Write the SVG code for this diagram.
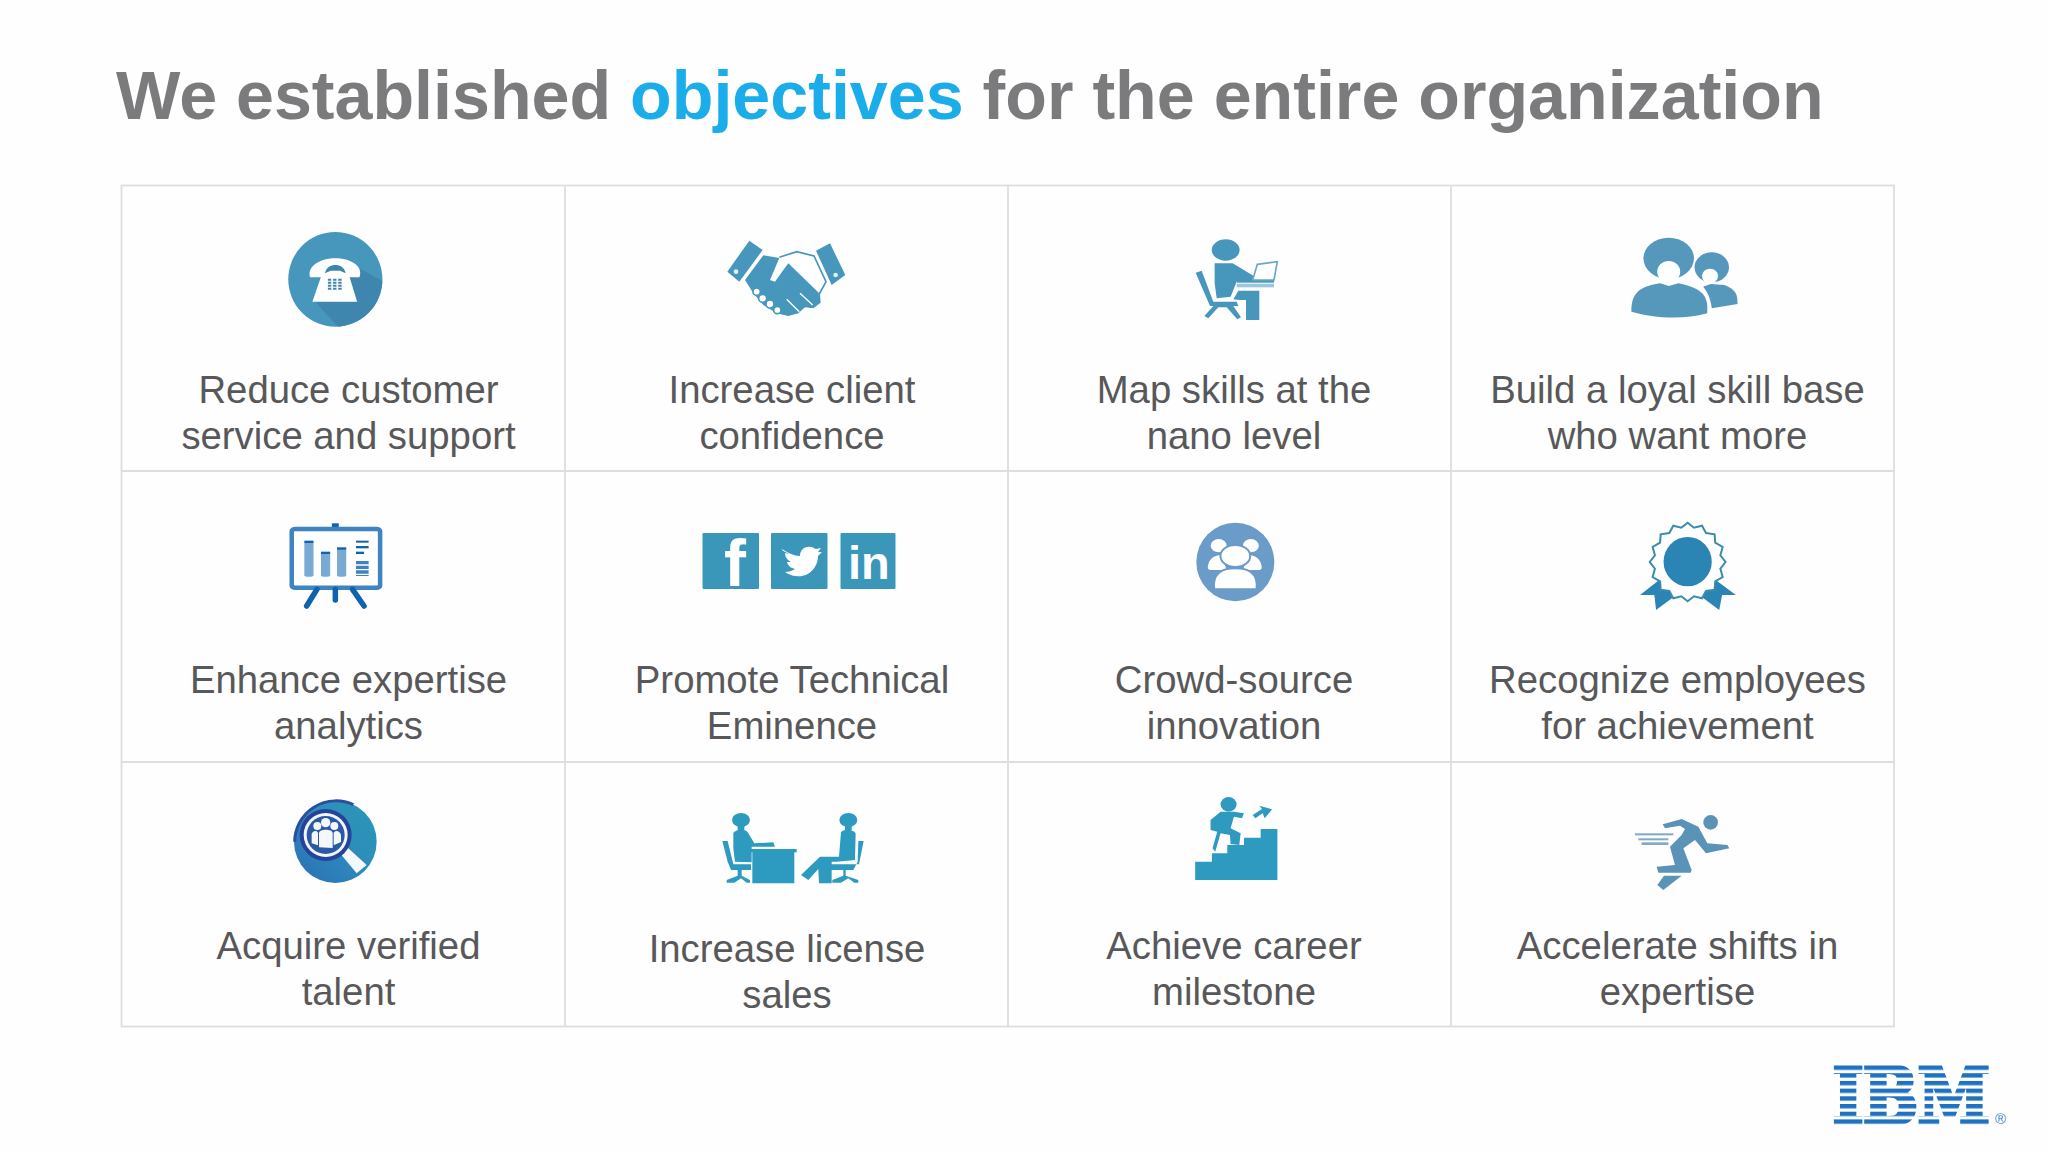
<svg xmlns="http://www.w3.org/2000/svg" width="2048" height="1152" viewBox="0 0 2048 1152">
<style>
text{font-family:"Liberation Sans",Arial,sans-serif}
.t{font-size:68.200px;font-weight:700;fill:#7b7b7d}
.l{font-size:38.300px;fill:#58585a;text-anchor:middle}
.g{stroke:#dddee2;stroke-width:1.800;fill:none}
.a{fill:#4797bd}.w{fill:#fff}
.soc{font-weight:700;fill:#fff}
</style>
<defs>
<pattern id="stripes" patternUnits="userSpaceOnUse" x="0" y="-57.500" width="10" height="7.700"><rect width="10" height="7.700" fill="#fff"/><rect width="10" height="4.400" fill="#1f72bf"/></pattern>
<clipPath id="phoneclip"><ellipse cx="410" cy="298" rx="82" ry="142"/></clipPath>
<linearGradient id="maggrad" x1="0" y1="1" x2="1" y2="0"><stop offset="0" stop-color="#2b6fb5"/><stop offset=".6" stop-color="#2d8fbb"/><stop offset="1" stop-color="#2b98b5"/></linearGradient>
</defs>
<rect width="2048" height="1152" fill="#fefefe"/>
<g id="title"><text class="t" x="116" y="119">We established <tspan fill="#1bade9">objectives</tspan> for the entire organization</text></g>
<g id="grid" class="g">
<rect x="121.500" y="185.500" width="1772.500" height="841"/>
<path d="M121.500 471H1894M121.500 762H1894M565 185.500V1026.500M1008 185.500V1026.500M1451 185.500V1026.500"/>
</g>

<g id="n1"><g transform="translate(100,180) scale(.574,.3333)">
<ellipse cx="410" cy="298" rx="82" ry="142" fill="#4797bd"/>
<path clip-path="url(#phoneclip)" d="M448 262L500 310V450H420L375 365Z" fill="#3f86ae"/>
<path class="w" d="M366 292C360 258 385 235 410 235C435 235 460 258 452 292L430 292L432 275H388L390 292ZM388 275H432L448 365H370Z"/>
<path d="M392 280C394 262 402 255 410 255C418 255 426 262 428 280L418 272H402Z" fill="#3f86ae"/>
<path d="M400 296V332M409 296V332M418 296V332" stroke="#3f86ae" stroke-width="6" stroke-dasharray="6 3" fill="none"/>
</g><text class="l" x="348.500" y="403">Reduce customer</text><text class="l" x="348.500" y="449">service and support</text></g>

<g id="n2"><g transform="translate(720,230) scale(.3333)">
<path class="a" d="M88 32L128 60L58 155L22 125Z"/><path class="a" d="M288 62L330 40L376 135L335 165Z"/>
<circle cx="48" cy="125" r="7" fill="#dff0f6"/><circle cx="347" cy="135" r="7" fill="#dff0f6"/>
<path d="M178 82L230 65L282 78L318 155L298 192" fill="#fff" stroke="#4797bd" stroke-width="5"/>
<path class="a" d="M75 150L130 76L178 84L150 150L165 155L190 120L205 100L300 192L302 218L280 235L255 232L235 250L205 258L170 250L130 225L100 190Z"/>
<g fill="#fff" stroke="#4797bd" stroke-width="5"><circle cx="110" cy="185" r="11"/><circle cx="128" cy="205" r="12"/><circle cx="150" cy="222" r="12"/><circle cx="172" cy="240" r="11"/></g>
<path d="M200 208L238 245M240 190L278 225" stroke="#fff" stroke-width="4" fill="none"/>
</g><text class="l" x="792" y="403">Increase client</text><text class="l" x="792" y="449">confidence</text></g>

<g id="n3"><g transform="translate(1180,230) scale(.3333)">
<ellipse class="a" cx="137" cy="60" rx="42" ry="32"/>
<path class="a" d="M104 100H158L225 140L218 150H172L152 200L110 205L104 160Z"/>
<path class="a" d="M47 128L65 122L100 215H170L175 228H160L183 262L172 268L140 232H115L85 265L73 258L100 228H90Z"/>
<path class="a" d="M160 208L175 182H238V270H198V210H178Z"/>
<rect x="170" y="148" width="112" height="10" fill="#4797bd"/><rect x="170" y="161" width="112" height="11" fill="#9cc7db"/>
<path d="M232 103L292 95L282 150H218Z" fill="#fff" stroke="#6aa8c4" stroke-width="5"/>
</g><text class="l" x="1234" y="403">Map skills at the</text><text class="l" x="1234" y="449">nano level</text></g>

<g id="n4"><g transform="translate(1000,180) scale(.574,.3333)" fill="#5598bb">
<ellipse cx="1240" cy="262" rx="30" ry="45"/><ellipse class="w" cx="1237" cy="288" rx="14" ry="22"/>
<path d="M1225 320L1238 312L1262 315C1285 330 1285 350 1285 372L1240 385C1238 350 1230 330 1225 320Z"/>
<ellipse cx="1165" cy="235" rx="44" ry="62"/><ellipse class="w" cx="1165" cy="275" rx="20" ry="32"/>
<path d="M1100 395C1100 345 1110 320 1150 310L1165 318L1182 310C1225 325 1235 350 1232 400C1190 420 1140 415 1100 395Z"/>
</g><text class="l" x="1677.500" y="403">Build a loyal skill base</text><text class="l" x="1677.500" y="449">who want more</text></g>

<g id="n5"><g transform="translate(100,480) scale(.574,.3333)">
<rect x="404" y="130" width="12" height="20" fill="#0f63ad"/>
<rect x="334" y="147" width="154" height="176" rx="6" fill="#fff" stroke="#3f83c0" stroke-width="4.500" vector-effect="non-scaling-stroke"/>
<path d="M378 328L360 378M410 328V360M440 328L460 378" stroke="#0f63ad" stroke-width="5.500" stroke-linecap="round" fill="none" vector-effect="non-scaling-stroke"/>
<g fill="#7aa9d4"><rect x="356" y="185" width="16" height="105" rx="4"/><rect x="385" y="218" width="16" height="72" rx="4"/><rect x="413" y="205" width="16" height="85" rx="4"/></g>
<g fill="#0f63ad"><rect x="356" y="182" width="16" height="7"/><rect x="385" y="215" width="16" height="7"/><rect x="413" y="202" width="16" height="7"/><rect x="446" y="182" width="22" height="6"/><rect x="446" y="198" width="22" height="7"/><rect x="446" y="215" width="14" height="7"/></g>
<path d="M457 243V288" stroke="#3f83c0" stroke-width="22" stroke-dasharray="10 4" fill="none"/>
</g><text class="l" x="348.500" y="693">Enhance expertise</text><text class="l" x="348.500" y="739">analytics</text></g>

<g id="n6"><g fill="#3a97ba">
<rect x="702.500" y="533" width="56.500" height="56" rx="1"/><rect x="771" y="533" width="56.500" height="56" rx="1"/><rect x="840.500" y="533" width="55" height="56" rx="1"/></g>
<text class="soc" x="724" y="586" font-size="66">f</text>
<path class="w" d="M782 549C788 553 794 556 800 556C800 549 806 546 811 547C813 547 815 549 816 549L821 548L818 552L822 552L818 556C818 568 808 578 796 576C792 576 788 574 785 572C789 572 792 571 795 569C791 568 788 566 787 562L791 562C787 560 785 557 785 553L789 554C785 551 783 552 782 549Z"/>
<text class="soc" x="848" y="579" font-size="47">in</text>
<text class="l" x="792" y="693">Promote Technical</text><text class="l" x="792" y="739">Eminence</text></g>

<g id="n7"><g transform="translate(1000,480) scale(.574,.3333)">
<ellipse cx="410" cy="246" rx="68" ry="118" fill="#6b9bc8"/>
<g fill="#fff"><ellipse cx="381" cy="197" rx="14" ry="20"/><ellipse cx="437" cy="197" rx="14" ry="20"/>
<path d="M362 265C362 240 372 225 385 225L395 270H365ZM456 265C456 240 446 225 433 225L423 270H453Z"/></g>
<ellipse cx="410" cy="228" rx="26" ry="33" fill="#fff" stroke="#6b9bc8" stroke-width="2" vector-effect="non-scaling-stroke"/>
<path d="M373 328C370 282 385 265 410 265C435 265 450 282 447 328Z" fill="#fff" stroke="#6b9bc8" stroke-width="2" vector-effect="non-scaling-stroke"/>
</g><text class="l" x="1234" y="693">Crowd-source</text><text class="l" x="1234" y="739">innovation</text></g>

<g id="n8"><g transform="translate(1000,480) scale(.574,.3333)">
<path d="M1150 298L1115 345L1140 345L1143 390L1178 345ZM1245 298L1282 345L1258 345L1253 390L1218 345Z" fill="#2a85b5"/>
<polygon points="1264,246 1255,266 1259,291 1246,304 1245,329 1230,333 1223,355 1209,349 1198,364 1187,349 1173,355 1166,333 1151,329 1150,304 1137,291 1141,266 1132,246 1141,226 1137,201 1150,188 1151,163 1166,159 1173,137 1187,143 1198,128 1209,143 1223,137 1230,159 1245,163 1246,188 1259,201 1255,226" fill="#fff" stroke="#3a8cab" stroke-width="2" vector-effect="non-scaling-stroke"/>
<ellipse cx="1198" cy="245" rx="42" ry="74" fill="#2a85b5"/>
</g><text class="l" x="1677.500" y="693">Recognize employees</text><text class="l" x="1677.500" y="739">for achievement</text></g>

<g id="n9"><g transform="translate(285,790) scale(.3333)">
<circle cx="151" cy="155" r="124" fill="url(#maggrad)"/>
<path d="M29 155A124 124 0 0 1 205 44" fill="none" stroke="#2b4fa0" stroke-width="9"/>
<path d="M165 190L185 170L245 225L215 250Z" fill="#f2f8fb"/>
<circle cx="122" cy="135" r="78" fill="#24439a"/>
<circle cx="122" cy="135" r="66" fill="#f2f6fb"/>
<circle cx="122" cy="135" r="57" fill="#2a5aa5"/>
<g fill="#f4f8fb"><circle cx="122" cy="98" r="14"/><circle cx="97" cy="108" r="12"/><circle cx="148" cy="108" r="12"/>
<path d="M102 172V130C102 116 143 116 143 130V174Z"/><path d="M80 160V132C85 120 96 122 99 128V166Z"/><path d="M146 166V128C152 120 163 122 168 134V156Z"/></g>
</g><text class="l" x="348.500" y="959">Acquire verified</text><text class="l" x="348.500" y="1005">talent</text></g>

<g id="n10"><g transform="translate(715,805) scale(.3333)" fill="#2d9abf">
<ellipse cx="78" cy="45" rx="27" ry="21"/><rect x="68" y="60" width="20" height="16"/>
<path d="M55 85C60 72 95 70 100 85L118 115L175 112L180 125H110V172L60 170L55 130Z"/>
<path d="M22 108H38L55 178H108V195H80V212L105 225V233H95L78 220L58 233H35V225L68 212V195H48L38 170Z"/>
<path d="M108 132H245V142H238V235H112V142H108Z"/>
<ellipse cx="400" cy="45" rx="27" ry="21"/><rect x="390" y="60" width="20" height="16"/>
<path d="M378 82C385 70 415 72 422 85L420 165L365 170H350V235H312L310 192L280 225L258 210L315 155H372Z"/>
<path d="M430 108H446L432 178H345V195H392V212L430 225V233H418L400 220L378 233H352V225L385 212V195H415L428 170Z"/>
</g><text class="l" x="787" y="962">Increase license</text><text class="l" x="787" y="1008">sales</text></g>

<g id="n11"><g transform="translate(1000,770) scale(.6684,.3333)" fill="#2f9abf">
<path d="M292 330V275H317V250H340V225H365V203H390V177H415V330Z"/>
<ellipse cx="342" cy="103" rx="12" ry="22"/>
<path d="M330 125L350 125L365 130L362 145L350 140L345 175L360 190L358 225L345 222L344 195L330 190L322 245L318 235L325 185L315 180L315 150Z"/>
<path d="M378 135L392 117L388 107L407 118L396 145L393 130L382 145Z"/>
</g><text class="l" x="1234" y="959">Achieve career</text><text class="l" x="1234" y="1005">milestone</text></g>

<g id="n12"><g transform="translate(1620,805) scale(.3333)" fill="#5a93b5">
<circle cx="272" cy="52" r="22"/>
<path d="M128 58L185 42L235 65L262 115L322 120L328 130L258 145L225 105L190 130L215 195L212 203H115L110 185L165 180L150 125L185 90L195 72L180 62L135 70Z"/>
<path d="M132 212H185L130 255L112 240Z"/>
<g fill="#7fa9c4"><rect x="45" y="85" width="115" height="6"/><rect x="55" y="100" width="90" height="6"/><rect x="65" y="112" width="80" height="8"/></g>
</g><text class="l" x="1677.500" y="959">Accelerate shifts in</text><text class="l" x="1677.500" y="1005">expertise</text></g>

<g id="logo">
<text transform="translate(1833,1123) scale(.84,1)" font-size="77" font-weight="700" fill="url(#stripes)" stroke="url(#stripes)" stroke-width="5" style="font-family:'DejaVu Serif',serif">IBM</text>
<text x="1995" y="1124" font-size="15" fill="#3a85c8">®</text>
</g>
</svg>
